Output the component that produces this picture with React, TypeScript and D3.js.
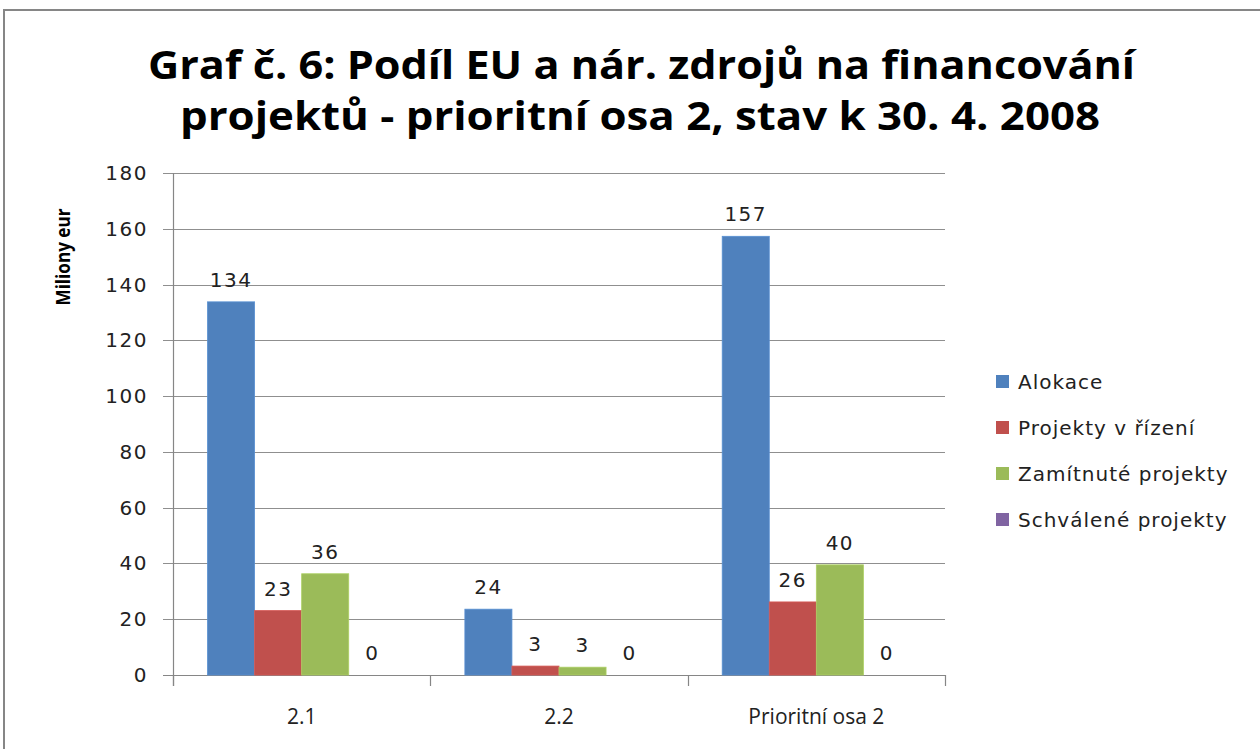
import React from "react";
import * as d3 from "d3";

const categories = ["2.1", "2.2", "Prioritní osa 2"];
const seriesNames = ["Alokace", "Projekty v řízení", "Zamítnuté projekty", "Schválené projekty"];
const seriesColors = ["#4F81BD", "#C0504D", "#9BBB59", "#8064A2"];
const alokace = [133.8, 23.6, 157.3];
const vRizeni = [23.1, 3.2, 26.2];
const zamitnute = [36.3, 2.8, 39.5];
const schvalene = [0, 0, 0];
const yTicks = [0, 20, 40, 60, 80, 100, 120, 140, 160, 180];
const titleLines = [
  "Graf č. 6: Podíl EU a nár. zdrojů na financování",
  "projektů - prioritní osa 2, stav k 30. 4. 2008",
];

export default function App() {
  const W = 1260, H = 749;
  const left = 173, right = 945, top = 173, bottom = 675;
  const series = [alokace, vRizeni, zamitnute, schvalene];
  const y = d3.scaleLinear().domain([0, 180]).range([bottom, top]);
  const x0 = d3.scaleBand().domain(categories).range([left, right]).paddingInner(0).paddingOuter(0);
  const x1 = d3.scaleBand().domain(seriesNames).range([0, x0.bandwidth()]).paddingOuter(0.734).paddingInner(0);
  const fmt = d3.format(".0f");
  const axisFont = "'DejaVu Sans', Verdana, sans-serif";
  const narrowFont = "'Open Sans', sans-serif";

  return (
    <svg width={W} height={H} style={{ position: "absolute", left: 0, top: 0, background: "#fff" }}>
      <rect x={4} y={10} width={1300} height={800} fill="#fff" stroke="#868686" strokeWidth={2} />
      {titleLines.map((t, i) => (
        <text key={i} x={i === 0 ? 148 : 180} y={i === 0 ? 79 : 130}
          textLength={i === 0 ? 987 : 920} lengthAdjust="spacingAndGlyphs"
          fontFamily={narrowFont} fontWeight="bold" fontSize={40} fill="#000">{t}</text>
      ))}
      {yTicks.map((t) => (
        <line key={t} x1={left - 10} x2={right} y1={Math.round(y(t)) + 0.5} y2={Math.round(y(t)) + 0.5}
          stroke={t === 0 ? "#868686" : "#8f8f8f"} strokeWidth={1.2} />
      ))}
      {yTicks.map((t) => (
        <text key={"l" + t} x={148} y={y(t) + 7} textAnchor="end" fontFamily={axisFont} fontSize={20}
          letterSpacing={1.5} fill="#222">{t}</text>
      ))}
      <line x1={left + 0.5} x2={left + 0.5} y1={top} y2={bottom + 11} stroke="#868686" strokeWidth={1.2} />
      {[...categories.map((c) => x0(c) as number), right].map((v, i) => (
        <line key={"xt" + i} x1={Math.round(v) + 0.5} x2={Math.round(v) + 0.5} y1={bottom} y2={bottom + 11} stroke="#868686" strokeWidth={1.2} />
      ))}
      <text transform={`translate(70,257) rotate(-90)`} textAnchor="middle" fontFamily={narrowFont} fontWeight="bold"
        fontSize={20} textLength={97} lengthAdjust="spacingAndGlyphs" fill="#000">Miliony eur</text>
      {categories.map((c, ci) => (
        <g key={c} transform={`translate(${x0(c)},0)`}>
          {seriesNames.map((s, si) => {
            const v = series[si][ci];
            const bx = x1(s) as number;
            const bw = x1.bandwidth();
            return (
              <g key={s}>
                {v > 0 && (
                  <rect x={bx} y={y(v)} width={bw} height={y(0) - y(v)} fill={seriesColors[si]}
                    stroke={d3.color(seriesColors[si])!.brighter(0.3).toString()} strokeWidth={0.8} />
                )}
                <text x={bx + bw / 2} y={y(v) - 15} textAnchor="middle" fontFamily={axisFont} fontSize={20}
                  letterSpacing={1.5} fill="#222">{fmt(v)}</text>
              </g>
            );
          })}
        </g>
      ))}
      {categories.map((c) => (
        <text key={"c" + c} x={(x0(c) as number) + x0.bandwidth() / 2} y={724} textAnchor="middle"
          fontFamily={narrowFont} fontSize={21} fill="#222">{c}</text>
      ))}
      {seriesNames.map((s, i) => (
        <g key={"lg" + s} transform={`translate(996,${382 + i * 46})`}>
          <rect x={0} y={-7} width={13} height={13} fill={seriesColors[i]} />
          <text x={22} y={7} fontFamily={axisFont} fontSize={20} letterSpacing={1} fill="#222">{s}</text>
        </g>
      ))}
    </svg>
  );
}
